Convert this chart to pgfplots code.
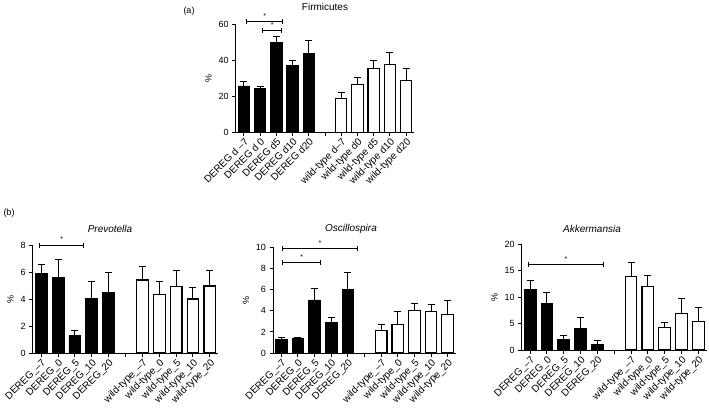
\documentclass[border=0pt]{standalone}
\usepackage{fontspec}
\setmainfont{Liberation Sans}
\usepackage{pgfplots}
\pgfplotsset{compat=1.18}

\pgfplotsset{
  panel/.style={
    scale only axis, anchor=south west,
    xmin=-0.5, xmax=10.5, ymin=0,
    axis x line=bottom, axis y line=left,
    axis line style={-, line width=1pt},
    tick align=outside, major tick length=3.5pt,
    every tick/.append style={line width=1pt, black},
    xtick={0,...,10},
    yticklabel style={font=\fontsize{9}{10}\selectfont},
    /pgf/number format/assume math mode=true,
    xticklabel style={rotate=45, anchor=north east, inner sep=1pt,
      font=\fontsize{10}{11}\selectfont},
    ylabel={\%}, ylabel style={font=\fontsize{9}{10}\selectfont},
    clip=false,
  },
  bars/.style={ybar, bar width=0.7, bar shift=0pt, draw=black,
    error bars/.cd, y dir=plus, y explicit,
    error bar style={line width=1pt, black},
    error mark options={rotate=90, mark size=3.5pt, line width=1pt, black}},
  dereg/.style={fill=black, line width=0.8pt, bars},
  wt/.style={fill=white, line width=1.1pt, bars},
}
% significance bracket: x1, x2, y, midpoint
\newcommand{\sig}[4]{%
  \draw[line width=1pt] (axis cs:#1,#3) -- (axis cs:#2,#3);
  \draw[line width=1pt] ([yshift=-2.5pt]axis cs:#1,#3) -- ([yshift=2.5pt]axis cs:#1,#3);
  \draw[line width=1pt] ([yshift=-2.5pt]axis cs:#2,#3) -- ([yshift=2.5pt]axis cs:#2,#3);
  \node[font=\fontsize{7}{8}\selectfont, inner sep=0pt, anchor=south, yshift=3pt] at (axis cs:#4,#3) {*};
}

\begin{document}
\begin{tikzpicture}
\useasboundingbox (0,0) rectangle (709pt,413pt);

% (a) Firmicutes
\begin{axis}[panel, at={(235.7pt,280.7pt)}, width=178.6pt, height=108.3pt,
  ymax=60, ytick={0,20,40,60},
  xticklabels={DEREG d --7, DEREG d 0, DEREG d5, DEREG d10, DEREG d20, {},
    wild-type d--7, wild-type d0, wild-type d5, wild-type d10, wild-type d20}]
\addplot[dereg] coordinates {(0,25.7)+-(0,2.3) (1,24.4)+-(0,1.2) (2,49.8)+-(0,3.3) (3,36.9)+-(0,2.9) (4,43.5)+-(0,7.1)};
\addplot[wt] coordinates {(6,18.7)+-(0,3.2) (7,26.3)+-(0,4.1) (8,35.4)+-(0,4.4) (9,37.8)+-(0,6.5) (10,28.9)+-(0,6.3)};
\sig{0.19}{2.39}{61.5}{1.29}
\sig{1.18}{2.31}{56.5}{1.75}
\end{axis}

% (b) Prevotella
\begin{axis}[panel, at={(32.7pt,60pt)}, width=185.6pt, height=108pt,
  ymax=8, ytick={0,2,4,6,8},
  xticklabels={DEREG\_--7, DEREG\_0, DEREG\_5, DEREG\_10, DEREG\_20, {},
    wild-type\_--7, wild-type\_0, wild-type\_5, wild-type\_10, wild-type\_20}]
\addplot[dereg] coordinates {(0,5.88)+-(0,0.64) (1,5.6)+-(0,1.34) (2,1.28)+-(0,0.40) (3,4.05)+-(0,1.28) (4,4.49)+-(0,1.46)};
\addplot[wt] coordinates {(6,5.41)+-(0,1.01) (7,4.35)+-(0,0.96) (8,4.91)+-(0,1.19) (9,4.0)+-(0,0.86) (10,4.96)+-(0,1.14)};
\sig{-0.09}{2.54}{8.0}{1.22}
\end{axis}

% (b) Oscillospira
\begin{axis}[panel, at={(273pt,60pt)}, width=183pt, height=105.7pt,
  ymax=10, ytick={0,2,4,6,8,10},
  xticklabels={DEREG\_--7, DEREG\_0, DEREG\_5, DEREG\_10, DEREG\_20, {},
    wild-type\_--7, wild-type\_0, wild-type\_5, wild-type\_10, wild-type\_20}]
\addplot[dereg] coordinates {(0,1.32)+-(0,0.19) (1,1.42)+-(0,0.04) (2,5.02)+-(0,1.07) (3,2.9)+-(0,0.48) (4,5.99)+-(0,1.64)};
\addplot[wt] coordinates {(6,2.11)+-(0,0.63) (7,2.71)+-(0,1.17) (8,4.04)+-(0,0.66) (9,3.91)+-(0,0.69) (10,3.66)+-(0,1.26)};
\sig{0.09}{4.55}{9.87}{2.32}
\sig{0.09}{2.37}{8.58}{1.23}
\end{axis}

% (b) Akkermansia
\begin{axis}[panel, at={(521.7pt,63pt)}, width=185pt, height=105.7pt,
  ymax=20, ytick={0,5,10,15,20},
  xticklabels={DEREG\_--7, DEREG\_0, DEREG\_5, DEREG\_10, DEREG\_20, {},
    wild-type\_--7, wild-type\_0, wild-type\_5, wild-type\_10, wild-type\_20}]
\addplot[dereg] coordinates {(0,11.48)+-(0,1.62) (1,8.77)+-(0,2.08) (2,1.96)+-(0,0.75) (3,4.16)+-(0,2.02) (4,1.07)+-(0,0.76)};
\addplot[wt] coordinates {(6,13.94)+-(0,2.53) (7,12.1)+-(0,1.97) (8,4.23)+-(0,0.88) (9,6.94)+-(0,2.84) (10,5.36)+-(0,2.65)};
\sig{-0.09}{4.37}{16.15}{2.14}
\end{axis}

% titles and panel letters
\node[font=\fontsize{10}{12}\selectfont] at (325pt,406pt) {Firmicutes};
\node[font=\fontsize{10}{12}\selectfont\itshape] at (110pt,184pt) {Prevotella};
\node[font=\fontsize{10}{12}\selectfont\itshape] at (351pt,184pt) {Oscillospira};
\node[font=\fontsize{10}{12}\selectfont\itshape] at (592pt,184pt) {Akkermansia};
\node[font=\fontsize{9}{11}\selectfont] at (189pt,402pt) {(a)};
\node[font=\fontsize{9}{11}\selectfont] at (9pt,200pt) {(b)};
\end{tikzpicture}
\end{document}
